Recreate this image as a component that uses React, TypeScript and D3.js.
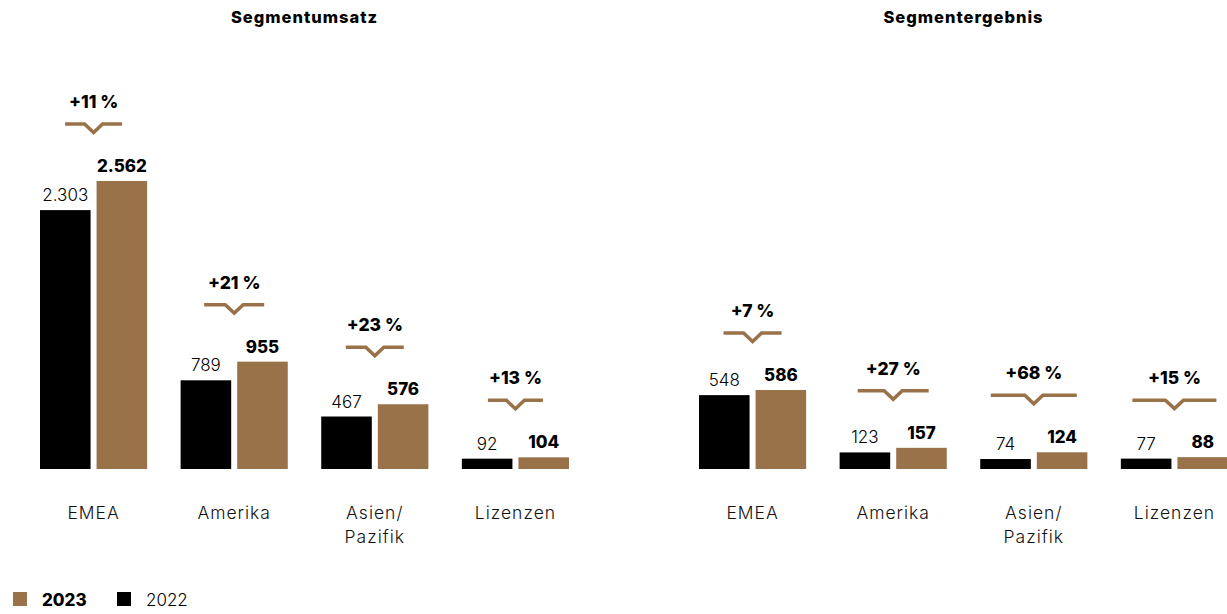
import React from "react";
import * as d3 from "d3";

const categories = ["EMEA", "Amerika", "Asien/\nPazifik", "Lizenzen"];
const umsatz2022 = [2303, 789, 467, 92];
const umsatz2023 = [2562, 955, 576, 104];
const umsatzChange = ["+11 %", "+21 %", "+23 %", "+13 %"];
const ergebnis2022 = [548, 123, 74, 77];
const ergebnis2023 = [586, 157, 124, 88];
const ergebnisChange = ["+7 %", "+27 %", "+68 %", "+15 %"];
const years = ["2022", "2023"];
const panelTitles = ["Segmentumsatz", "Segmentergebnis"];

const GOLD = "#9a7249";
const FONT = "Inter, Lato, 'Open Sans', sans-serif";

const fmt = (v: number) => d3.format(",")(v).replace(/,/g, ".");

type PanelProps = {
  title: string;
  v22: number[];
  v23: number[];
  change: string[];
  x0: number;
  x1: number;
  yMax: number;
  pxHeight: number;
  bracketW: number[];
};

const BASE = 469;

function Panel({ title, v22, v23, change, x0, x1, yMax, pxHeight, bracketW }: PanelProps) {
  const x = d3.scaleBand<string>().domain(categories).range([x0, x1]).paddingInner(0.238).paddingOuter(0);
  const xi = d3.scaleBand<string>().domain(years).range([0, x.bandwidth()]).paddingInner(0.106);
  const y = d3.scaleLinear().domain([0, yMax]).range([BASE, BASE - pxHeight]);
  const cx = (x0 + x1) / 2;
  return (
    <g>
      <text x={cx} y={23} textAnchor="middle" fontFamily={FONT} fontWeight={800} fontSize={16.5} letterSpacing={1} fill="#000">
        {title}
      </text>
      {categories.map((c, i) => {
        const gx = x(c)!;
        const center = gx + x.bandwidth() / 2;
        const topY = Math.min(y(v22[i]), y(v23[i]));
        const by = topY - 57;
        const hw = bracketW[i] / 2;
        const lines = c.split("\n");
        return (
          <g key={c}>
            {[v22[i], v23[i]].map((v, j) => {
              const bx = gx + xi(years[j])!;
              return (
                <g key={j}>
                  <rect x={bx} y={y(v)} width={xi.bandwidth()} height={BASE - y(v)} fill={j === 0 ? "#000" : GOLD} />
                  <text
                    x={bx + xi.bandwidth() / 2}
                    y={y(v) - 9}
                    textAnchor="middle"
                    fontFamily={FONT}
                    fontWeight={j === 0 ? 300 : 800}
                    fontSize={17}
                    fill="#000"
                  >
                    {fmt(v)}
                  </text>
                </g>
              );
            })}
            <path
              d={`M${center - hw},${by} L${center - 9},${by} L${center},${by + 8.5} L${center + 9},${by} L${center + hw},${by}`}
              fill="none"
              stroke={GOLD}
              strokeWidth={3.5}
            />
            <text x={center} y={by - 16} textAnchor="middle" fontFamily={FONT} fontWeight={800} fontSize={17.5} fill="#000">
              {change[i]}
            </text>
            {lines.map((l, k) => (
              <text key={k} x={center} y={519 + k * 24} textAnchor="middle" fontFamily={FONT} fontWeight={300} fontSize={17.5} letterSpacing={1} fill="#111">
                {l}
              </text>
            ))}
          </g>
        );
      })}
    </g>
  );
}

export default function App() {
  return (
    <svg width={1227} height={614} style={{ position: "absolute", left: 0, top: 0, background: "#fff" }}>
      <Panel
        title={panelTitles[0]}
        v22={umsatz2022}
        v23={umsatz2023}
        change={umsatzChange}
        x0={40}
        x1={569}
        yMax={2562}
        pxHeight={288}
        bracketW={[57, 60, 58, 55]}
      />
      <Panel
        title={panelTitles[1]}
        v22={ergebnis2022}
        v23={ergebnis2023}
        change={ergebnisChange}
        x0={699}
        x1={1228}
        yMax={586}
        pxHeight={79}
        bracketW={[58, 71, 86, 84]}
      />
      <g>
        <rect x={13} y={592} width={14} height={14} fill={GOLD} />
        <text x={42} y={606} fontFamily={FONT} fontWeight={800} fontSize={17} fill="#000">{years[1]}</text>
        <rect x={117} y={592} width={14} height={14} fill="#000" />
        <text x={146} y={606} fontFamily={FONT} fontWeight={300} fontSize={17} fill="#000">{years[0]}</text>
      </g>
    </svg>
  );
}
